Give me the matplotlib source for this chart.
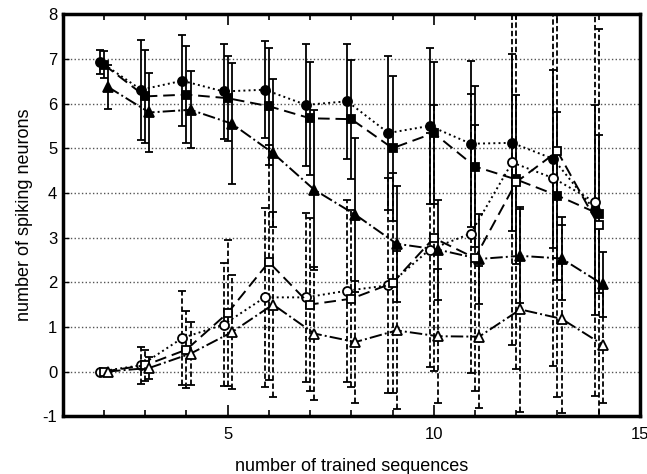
import matplotlib
matplotlib.use('Agg')
import matplotlib.pyplot as plt
import numpy as np
from matplotlib.ticker import MultipleLocator

plt.rcParams['font.family'] = ['Liberation Sans', 'DejaVu Sans']
plt.rcParams['axes.unicode_minus'] = False

n_seq = [2, 3, 4, 5, 6, 7, 8, 9, 10, 11, 12, 13, 14]

# filled symbols (solid error bars)
circ_f_mean = [6.94, 6.31, 6.51, 6.27, 6.31, 5.97, 6.05, 5.34, 5.50, 5.10, 5.12, 4.76, 3.62]
circ_f_sd   = [0.27, 1.12, 1.02, 1.06, 1.08, 1.36, 1.29, 1.73, 1.74, 1.86, 1.98, 2.00, 2.35]
sq_f_mean   = [6.87, 6.16, 6.20, 6.12, 5.94, 5.67, 5.65, 5.00, 5.34, 4.59, 4.30, 3.94, 3.53]
sq_f_sd     = [0.30, 1.05, 1.08, 0.95, 1.31, 1.26, 1.33, 1.62, 1.59, 1.81, 1.90, 1.88, 1.77]
tri_f_mean  = [6.37, 5.80, 5.86, 5.55, 4.89, 4.07, 3.51, 2.86, 2.73, 2.52, 2.59, 2.53, 1.95]
tri_f_sd    = [0.49, 0.88, 0.86, 1.35, 1.66, 1.79, 1.72, 1.30, 1.12, 1.00, 1.05, 0.92, 0.72]

# open symbols (dashed error bars)
circ_o_mean = [0.00, 0.14, 0.75, 1.05, 1.66, 1.66, 1.81, 1.93, 2.73, 3.09, 4.68, 4.33, 3.80]
circ_o_sd   = [0.00, 0.41, 1.05, 1.37, 2.00, 1.90, 2.04, 2.41, 2.62, 3.12, 4.08, 4.20, 4.35]
sq_o_mean   = [0.00, 0.14, 0.49, 1.31, 2.45, 1.50, 1.63, 1.98, 2.99, 2.54, 4.24, 4.93, 3.27]
sq_o_sd     = [0.00, 0.35, 0.87, 1.64, 2.63, 1.94, 1.98, 2.47, 2.98, 2.98, 4.18, 5.50, 4.40]
tri_o_mean  = [0.00, 0.08, 0.40, 0.88, 1.50, 0.85, 0.66, 0.92, 0.79, 0.78, 1.39, 1.18, 0.60]
tri_o_sd    = [0.00, 0.25, 0.70, 1.27, 2.08, 1.48, 1.36, 1.77, 1.50, 1.59, 2.30, 2.10, 1.30]

y_ticks = [-1, 0, 1, 2, 3, 4, 5, 6, 7, 8]
x_ticks = [5, 10, 15]

fig = plt.figure(figsize=(6.47, 4.74), dpi=100)
ax = fig.add_axes([0.097, 0.122, 0.892, 0.848])

xs = np.array(n_seq, dtype=float)
series = [
    (circ_f_mean, circ_f_sd, -0.1, 'o', ':', 'black', '-', 6.5),
    (sq_f_mean, sq_f_sd, 0.0, 's', (0, (6, 3)), 'black', '-', 5.5),
    (tri_f_mean, tri_f_sd, 0.1, '^', '-.', 'black', '-', 7),
    (circ_o_mean, circ_o_sd, -0.1, 'o', ':', 'white', (0, (3, 1.5)), 6.5),
    (sq_o_mean, sq_o_sd, 0.0, 's', (0, (6, 3)), 'white', (0, (3, 1.5)), 5.5),
    (tri_o_mean, tri_o_sd, 0.1, '^', '-.', 'white', (0, (3, 1.5)), 7),
]
for mean, sd, off, mk, ls, fc, ebls, ms in series:
    eb = ax.errorbar(xs + off, mean, yerr=sd, marker=mk, linestyle=ls,
                     color='black', mfc=fc, mec='black', ms=ms, mew=1.3,
                     lw=1.4, elinewidth=1.3, capsize=3, capthick=1.2,
                     zorder=3)
    for lc in eb[2]:
        lc.set_linestyle(ebls)

ax.set_xlim(1, 15)
ax.set_ylim(-1, 8)
ax.set_xticks(x_ticks)
ax.xaxis.set_minor_locator(MultipleLocator(1))
ax.set_yticks(y_ticks)
ax.tick_params(axis='x', which='major', direction='in', length=8, width=1.2,
               top=True, labelsize=12, pad=8)
ax.tick_params(axis='x', which='minor', direction='in', length=4, width=1.2,
               top=True)
ax.tick_params(axis='y', which='major', direction='in', length=4, width=1,
               labelsize=12, pad=4)
ax.yaxis.grid(True, linestyle=':', color='#555555', lw=1.0)
for s in ax.spines.values():
    s.set_linewidth(2.5)

ax.set_xlabel('number of trained sequences', fontsize=13, labelpad=11)
ax.set_ylabel('number of spiking neurons', fontsize=13, labelpad=7)

fig.savefig('out.png', dpi=100)
